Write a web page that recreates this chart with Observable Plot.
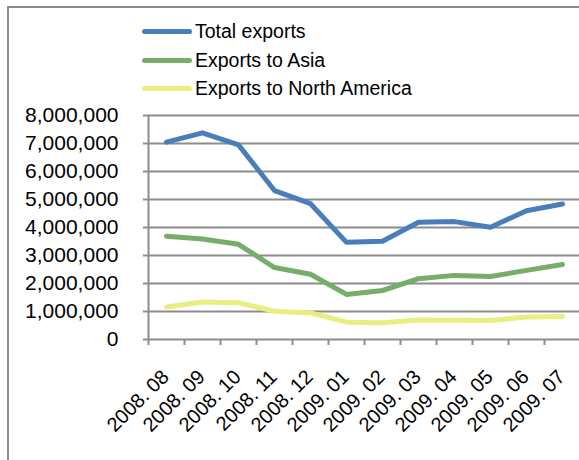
<!DOCTYPE html>
<html><head><meta charset="utf-8">
<script src="https://cdn.jsdelivr.net/npm/d3@7"></script>
<script src="https://cdn.jsdelivr.net/npm/@observablehq/plot@0.6"></script>
<style>
body{margin:0;overflow:hidden;background:#fff;font-family:"Liberation Sans",Arial,sans-serif;}
#wrap{position:relative;width:579px;height:460px;overflow:hidden;background:#fff;}
#border{position:absolute;left:7px;top:6px;width:700px;height:600px;border:2px solid #8c8c8c;}
#legend{position:absolute;left:0;top:0;width:579px;height:100px;}
.item{position:absolute;left:142px;height:24px;display:flex;align-items:center;font-size:19.5px;color:#000;white-space:nowrap;}
.swatch{width:50px;height:5px;border-radius:3px;margin-right:3px;}
#chart{position:absolute;left:0;top:100px;}
</style></head>
<body>
<div id="wrap"><div id="border"></div><div id="legend"></div><div id="chart"></div></div>
<script>
const categories = ["2008. 08","2008. 09","2008. 10","2008. 11","2008. 12","2009. 01","2009. 02","2009. 03","2009. 04","2009. 05","2009. 06","2009. 07"];
const totalExports = [7050000, 7380000, 6950000, 5320000, 4850000, 3470000, 3510000, 4190000, 4210000, 4010000, 4600000, 4840000];
const asiaExports = [3690000, 3590000, 3400000, 2570000, 2330000, 1610000, 1750000, 2170000, 2290000, 2250000, 2470000, 2680000];
const northAmericaExports = [1160000, 1340000, 1310000, 1010000, 950000, 620000, 600000, 700000, 690000, 680000, 800000, 820000];
const seriesNames = ["Total exports", "Exports to Asia", "Exports to North America"];
const seriesColors = ["#4a7ebb", "#77ad6b", "#e8ef80"];
const yTicks = [0, 1000000, 2000000, 3000000, 4000000, 5000000, 6000000, 7000000, 8000000];

const seriesValues = [totalExports, asiaExports, northAmericaExports];
const rows = seriesNames.flatMap((name, i) => categories.map((c, j) => ({series: name, cat: c, value: seriesValues[i][j]})));

// legend (HTML, above the plot)
const legend = document.getElementById("legend");
const legendTops = [19, 48, 76];
seriesNames.forEach((name, i) => {
  const it = document.createElement("div");
  it.className = "item";
  it.style.top = legendTops[i] + "px";
  const sw = document.createElement("div");
  sw.className = "swatch";
  sw.style.background = seriesColors[i];
  const tx = document.createElement("span");
  tx.textContent = name;
  it.appendChild(sw); it.appendChild(tx);
  legend.appendChild(it);
});

const x0 = 148, x1 = 580;
const bw = (x1 - x0) / categories.length;
const grid = "#8c8c8c";

const chart = Plot.plot({
  width: 579,
  height: 360,
  marginTop: 15,
  marginBottom: 121,
  marginLeft: 148,
  marginRight: 0,
  style: {fontFamily: "Liberation Sans, Arial, sans-serif", background: "transparent", color: "#000"},
  x: {type: "band", domain: categories, range: [x0, x1], padding: 0, axis: null},
  y: {domain: [0, 8000000], axis: null},
  color: {domain: seriesNames, range: seriesColors},
  marks: [
    Plot.ruleY(yTicks, {stroke: grid, strokeWidth: 2}),
    Plot.axisY(yTicks, {label: null, tickSize: 5, tickPadding: 25, tickFormat: d3.format(","), fontSize: 21, stroke: grid, strokeWidth: 2}),
    Plot.ruleX([categories[0]], {dx: -bw / 2, y1: 0, y2: 8000000, stroke: grid, strokeWidth: 2}),
    Plot.axisX({label: null, tickSize: 6, fill: "none", tickFormat: () => "", dx: -bw / 2, stroke: grid, strokeWidth: 2}),
    Plot.text(categories, {x: d => d, y: 0, text: d => d, rotate: -45, textAnchor: "end", dx: -1, dy: 34, fontSize: 20, fill: "#000"}),
    Plot.line(rows, {x: "cat", y: "value", z: "series", stroke: "series", strokeWidth: 5, strokeLinecap: "round", strokeLinejoin: "round"})
  ]
});
document.getElementById("chart").appendChild(chart);
</script>
</body></html>
